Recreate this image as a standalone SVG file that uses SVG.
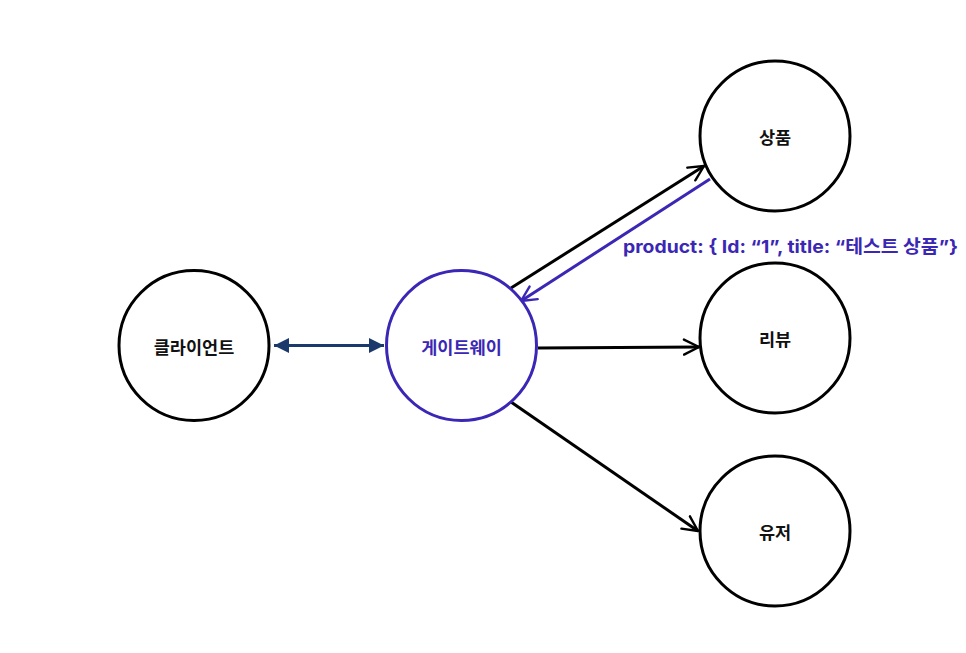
<svg xmlns="http://www.w3.org/2000/svg" width="966" height="653" viewBox="0 0 966 653">
<style>
.node{fill:#fff;stroke:#000;stroke-width:3}
.gw{fill:#fff;stroke:#3a27b5;stroke-width:3}
.t{font-family:"Noto Sans CJK KR","Noto Sans",sans-serif;font-weight:700;font-size:17.5px;text-anchor:middle;dominant-baseline:central;fill:#111}
.tp{fill:#3a27b5}
.lbl{font-family:Inter,"Noto Sans CJK KR",sans-serif;font-weight:700;font-size:18px;fill:#3a27b5}
.c{fill:none;stroke:#000;stroke-width:3}
.cp{fill:none;stroke:#3a27b5;stroke-width:3}
</style>
<defs>
<marker id="open" viewBox="0 0 12 12" refX="11" refY="6" markerWidth="6" markerHeight="6" orient="auto" markerUnits="strokeWidth">
<path d="M1,1 L11,6 L1,11" fill="none" stroke="#000" stroke-width="1.6" stroke-linecap="round" stroke-linejoin="round"/>
</marker>
<marker id="openp" viewBox="0 0 12 12" refX="11" refY="6" markerWidth="6" markerHeight="6" orient="auto" markerUnits="strokeWidth">
<path d="M1,1 L11,6 L1,11" fill="none" stroke="#3a27b5" stroke-width="1.6" stroke-linecap="round" stroke-linejoin="round"/>
</marker>
<marker id="fill" viewBox="0 0 10 10" refX="10" refY="5" markerWidth="5" markerHeight="5" orient="auto-start-reverse" markerUnits="strokeWidth">
<path d="M0,0 L10,5 L0,10 Z" fill="#1b3a6b"/>
</marker>
</defs>
<g id="connectors">
<line x1="274" y1="345.5" x2="384" y2="345.5" stroke="#1b3a6b" stroke-width="3" marker-start="url(#fill)" marker-end="url(#fill)"/>
<line class="c" x1="511" y1="288" x2="704" y2="166" marker-end="url(#open)"/>
<line class="cp" x1="710" y1="179" x2="521" y2="301" marker-end="url(#openp)"/>
<line class="c" x1="538" y1="348" x2="699" y2="347" marker-end="url(#open)"/>
<line class="c" x1="511" y1="402" x2="698" y2="531" marker-end="url(#open)"/>
<text class="lbl" x="623" y="253" textLength="335" lengthAdjust="spacingAndGlyphs">product: { Id: “1”, title: “테스트 상품”}</text>
</g>
<g id="client"><circle class="node" cx="194" cy="345.5" r="75"/><text class="t" x="194" y="346">클라이언트</text></g>
<g id="gateway"><circle class="gw" cx="461.5" cy="345.5" r="75"/><text class="t tp" x="461.5" y="346">게이트웨이</text></g>
<g id="product"><circle class="node" cx="775" cy="136" r="75"/><text class="t" x="775" y="136">상품</text></g>
<g id="review"><circle class="node" cx="775" cy="338" r="75"/><text class="t" x="775" y="338">리뷰</text></g>
<g id="user"><circle class="node" cx="775" cy="531" r="75"/><text class="t" x="775" y="531">유저</text></g>
</svg>
